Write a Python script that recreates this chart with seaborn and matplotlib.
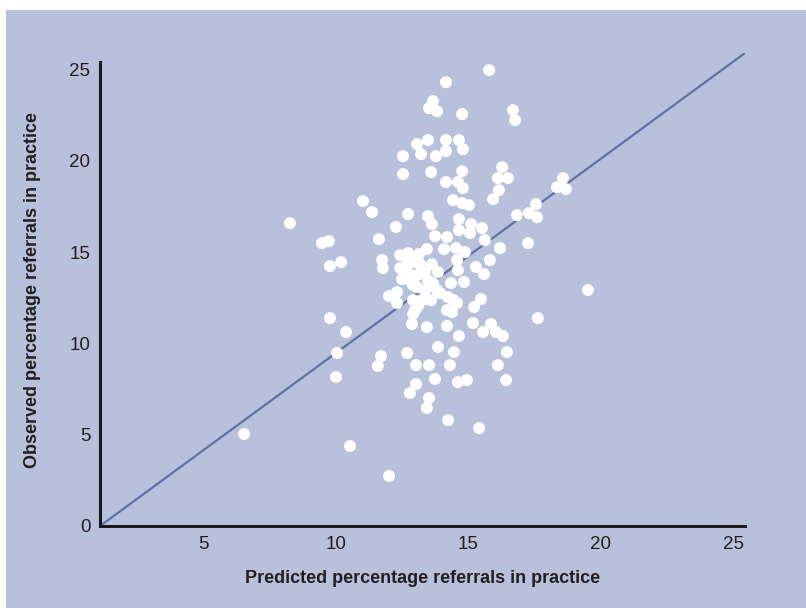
import matplotlib
matplotlib.use("Agg")
import matplotlib.pyplot as plt
import seaborn as sns
import pandas as pd
from matplotlib.patches import Rectangle

# predicted vs observed referral percentages per practice
predicted = [15.79, 14.16, 13.67, 13.52, 13.82, 14.77, 16.69, 16.77, 13.07, 13.48,
             14.16, 14.65, 14.80, 12.54, 13.22, 13.78, 14.16, 12.54, 13.60, 14.77,
             16.28, 16.12, 16.50, 14.16, 14.61, 14.80, 16.16, 15.94, 14.43, 14.77,
             15.03, 11.03, 11.37, 12.73, 13.48, 13.63, 12.27, 14.65, 15.11, 14.65,
             15.52, 15.63, 16.84, 17.29, 17.56, 17.60, 17.26, 18.58, 18.35, 18.69,
             9.48, 9.74, 11.63, 13.75, 14.20, 15.07, 9.78, 10.20, 11.75, 11.78,
             12.43, 12.73, 13.14, 13.44, 14.09, 14.54, 14.88, 15.82, 16.20, 15.29,
             15.60, 12.43, 12.69, 12.95, 13.18, 13.63, 13.86, 14.58, 14.61, 14.35,
             14.84, 12.73, 13.07, 13.37, 12.50, 12.80, 12.92, 13.48, 13.07, 13.37,
             13.67, 13.82, 13.94, 14.24, 12.01, 12.31, 12.31, 12.92, 13.29, 13.60,
             13.10, 12.99, 12.92, 12.88, 13.44, 14.20, 14.58, 14.39, 14.20, 15.22,
             15.48, 15.18, 15.56, 15.86, 16.05, 16.31, 14.65, 13.86, 14.46, 16.46,
             17.63, 19.52, 9.78, 10.39, 10.05, 10.01, 12.69, 11.71, 11.59, 13.03,
             13.52, 14.31, 16.12, 13.75, 14.61, 14.95, 16.43, 13.03, 12.80, 13.52,
             13.44, 14.24, 15.41, 8.27, 6.54, 10.54, 12.01, 14.43]
observed = [24.96, 24.30, 23.26, 22.88, 22.71, 22.55, 22.77, 22.22, 20.91, 21.13,
            21.13, 21.13, 20.63, 20.25, 20.36, 20.25, 20.53, 19.27, 19.38, 19.43,
            19.65, 19.05, 19.05, 18.83, 18.83, 18.50, 18.39, 17.90, 17.84, 17.68,
            17.57, 17.79, 17.19, 17.08, 16.97, 16.53, 16.37, 16.80, 16.53, 16.20,
            16.31, 15.65, 17.02, 17.13, 17.62, 16.91, 15.49, 19.05, 18.55, 18.45,
            15.49, 15.60, 15.71, 15.87, 15.82, 16.04, 14.23, 14.45, 14.56, 14.12,
            14.83, 14.94, 14.89, 15.16, 15.16, 15.22, 15.00, 14.56, 15.22, 14.18,
            13.79, 14.12, 14.34, 14.45, 14.34, 14.34, 13.90, 14.56, 14.01, 13.30,
            13.36, 13.85, 13.74, 13.90, 13.52, 13.46, 13.19, 13.46, 13.08, 12.92,
            13.30, 12.92, 12.75, 12.53, 12.59, 12.81, 12.21, 12.37, 12.37, 12.37,
            12.04, 11.82, 11.60, 11.06, 10.89, 10.95, 12.21, 11.71, 11.82, 11.99,
            12.42, 11.11, 10.62, 11.06, 10.62, 10.40, 10.40, 9.80, 9.52, 9.52,
            11.38, 12.92, 11.38, 10.62, 9.47, 8.16, 9.47, 9.30, 8.76, 8.81,
            8.81, 8.81, 8.81, 8.05, 7.88, 7.99, 7.99, 7.77, 7.28, 7.01,
            6.46, 5.80, 5.36, 16.58, 5.04, 4.38, 2.74, 12.37]

# reference line, corner of the axes to the top right
ref_x = [1.1, 25.45]
ref_y = [0.0, 25.9]

x_ticks = [5, 10, 15, 20, 25]
y_ticks = [0, 5, 10, 15, 20, 25]

bg = "#b8c1dc"
line_col = "#5f72a8"
text_col = "#231f20"
font = ["Liberation Sans", "DejaVu Sans"]

df = pd.DataFrame({"predicted": predicted, "observed": observed})

fig = plt.figure(figsize=(8.06, 6.08), dpi=100, facecolor="white")
fig.patches.append(Rectangle((6 / 806, 0), 1, 1 - 10 / 608, transform=fig.transFigure,
                             facecolor=bg, edgecolor="none", zorder=-10))
ax = fig.add_axes([100 / 806, 1 - 526 / 608, 645 / 806, 473 / 608])
ax.set_facecolor("none")

sns.lineplot(x=ref_x, y=ref_y, ax=ax, color=line_col, linewidth=1.6)
sns.scatterplot(data=df, x="predicted", y="observed", ax=ax, color="white",
                edgecolor="none", s=74, zorder=3)

ax.set_xlim(1.1, 25.45)
ax.set_ylim(0, 25.9)
ax.set_xticks(x_ticks)
ax.set_yticks(y_ticks)
ax.tick_params(length=0, labelsize=13.5, labelcolor=text_col)
ax.tick_params(axis="x", pad=7.5)
ax.tick_params(axis="y", pad=7)
for lab in ax.get_xticklabels() + ax.get_yticklabels():
    lab.set_family(font)

for side in ["top", "right"]:
    ax.spines[side].set_visible(False)
for side in ["left", "bottom"]:
    ax.spines[side].set_linewidth(2.2)
    ax.spines[side].set_color("#1a1a1a")
ax.spines["left"].set_bounds(0, 25.4)

ax.set_xlabel("Predicted percentage referrals in practice", fontsize=13,
              fontweight="bold", color=text_col, family=font, labelpad=12)
ax.set_ylabel("Observed percentage referrals in practice", fontsize=13,
              fontweight="bold", color=text_col, family=font, labelpad=20)

fig.savefig("out.png", dpi=100, facecolor="white")
